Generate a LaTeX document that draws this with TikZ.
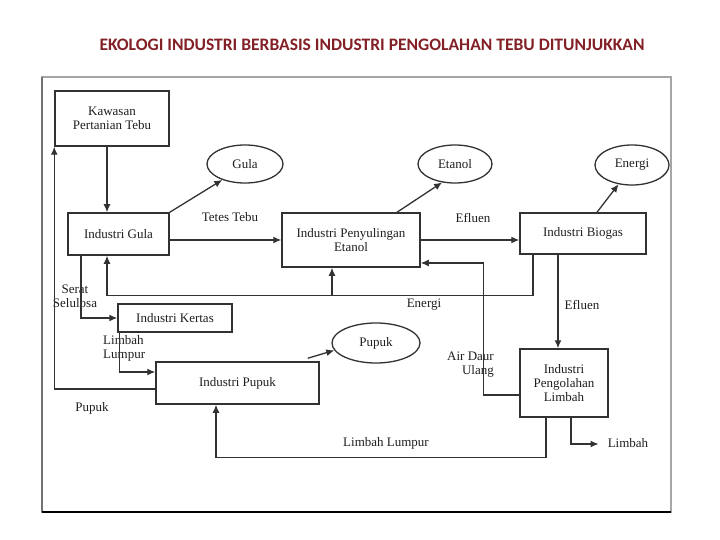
\documentclass[tikz,border=0pt]{standalone}
\usepackage{fontspec}
\setmainfont{Liberation Serif}
\newfontfamily\titlefont{Carlito}
\usetikzlibrary{arrows.meta,calc,shapes.geometric}
\definecolor{titlered}{RGB}{130,32,38}
\definecolor{ln}{RGB}{50,50,50}
\definecolor{tx}{RGB}{30,30,30}
\begin{document}
\begin{tikzpicture}[x=1pt,y=-1pt,
  font=\fontsize{13}{14}\selectfont,
  box/.style={draw=ln,line width=1.5pt,rectangle,inner sep=0pt,align=center,text=tx},
  oval/.style={draw=ln,line width=1.3pt,ellipse,inner sep=0pt,text=tx},
  lbl/.style={text=tx,inner sep=0pt,align=center},
  conn/.style={draw=ln,line width=1.3pt},
  arr/.style={conn,-{Latex[length=8pt,width=7pt]}}]
\useasboundingbox (0,0) rectangle (720,540);
% title
\node[anchor=base,text=titlered,font=\titlefont\bfseries\fontsize{17.5}{19}\selectfont,inner sep=0pt] (title) at (372,51) {EKOLOGI INDUSTRI BERBASIS INDUSTRI PENGOLAHAN TEBU DITUNJUKKAN};
% frame
\draw[draw=gray!70,line width=2pt] (42,77) rectangle (671,512);
\draw[draw=gray!90!black,line width=2pt] (42,77) -- (42,512);
\draw[draw=black,line width=2pt] (42,512) -- (671,512);
% boxes
\node[box,minimum width=114pt,minimum height=55pt] (kaw) at (112,118.5) {Kawasan\\Pertanian Tebu};
\node[box,minimum width=101pt,minimum height=42pt] (gula) at (118.5,234) {Industri Gula};
\node[box,minimum width=138pt,minimum height=54pt] (peny) at (351,240) {Industri Penyulingan\\Etanol};
\node[box,minimum width=126pt,minimum height=41pt] (biog) at (583,233.5) {Industri Biogas};
\node[box,minimum width=114pt,minimum height=28pt] (kert) at (175,318) {Industri Kertas};
\node[box,minimum width=163pt,minimum height=42pt] (pupk) at (237.5,383) {Industri Pupuk};
\node[box,minimum width=88pt,minimum height=68pt] (limb) at (564,383) {Industri\\Pengolahan\\Limbah};
% ellipses
\node[oval,minimum width=76pt,minimum height=38pt] (egula) at (245,164) {Gula};
\node[oval,minimum width=74pt,minimum height=38pt] (eetanol) at (455,164) {Etanol};
\node[oval,minimum width=74pt,minimum height=40pt] (eenergi) at (632,165) {Energi};
\node[oval,minimum width=88pt,minimum height=40pt] (epupuk) at (376,343) {Pupuk};
% labels
\node[lbl] (ltetes) at (230,217) {Tetes Tebu};
\node[lbl] (lefl1) at (473,218) {Efluen};
\node[lbl] (lenergi) at (424,305) {Energi};
\node[lbl] (lefl2) at (582,305) {Efluen};
\node[lbl,align=right,anchor=east] (lair) at (494,365) {Air Daur\\Ulang};
\node[lbl] (llumpur) at (386,443) {Limbah Lumpur};
\node[lbl] (llimbah) at (628,443) {Limbah};
\node[lbl] (lserat) at (75,296) {Serat\\Selulosa};
\node[lbl,align=left,anchor=west] (llimlum) at (103,348) {Limbah\\Lumpur};
\node[lbl] (lpupuk) at (92,408) {Pupuk};
% connectors
\draw[arr] ($(kaw.south)+(-5,0)$) -- ($(gula.north)+(-11.5,0)$);
\draw[arr] (gula.north east) -- (egula.215);
\draw[arr] ($(gula.east)+(0,6)$) -- (peny.west);
\draw[arr] ($(peny.north)+(46,0)$) -- (eetanol.235);
\draw[arr] (peny.east) -- ($(biog.west)+(0,6.5)$);
\draw[arr] ($(biog.north)+(14,0)$) -- (eenergi.235);
\draw[arr] ($(biog.south)+(-50,0)$) |- ($(gula.south)+(-11.5,40)$) -- ($(gula.south)+(-11.5,0)$);
\draw[arr] ($(peny.south)+(-19,28)$) -- ($(peny.south)+(-19,0)$);
\draw[arr] ($(biog.south)+(-25,0)$) -- ($(limb.north)+(-6,0)$);
\draw[arr] ($(limb.west)+(0,12)$) -| ($(peny.east)+(63,23)$) -- ($(peny.east)+(0,23)$);
\draw[arr] ($(limb.south)+(-18,0)$) |- ($(pupk.south)+(-21.5,53)$) -- ($(pupk.south)+(-21.5,0)$);
\draw[arr] ($(limb.south)+(7,0)$) |- ($(llimbah.west)+(-9,1)$);
\draw[arr] ($(pupk.north east)+(-12,-3)$) -- (epupuk.190);
\draw[arr] ($(gula.south)+(-37.5,0)$) |- (kert.west);
\draw[arr] ($(kert.south west)+(2,0)$) |- ($(pupk.west)+(0,-11)$);
\draw[arr] ($(pupk.west)+(0,6)$) -| (kaw.south west);
\end{tikzpicture}
\end{document}
